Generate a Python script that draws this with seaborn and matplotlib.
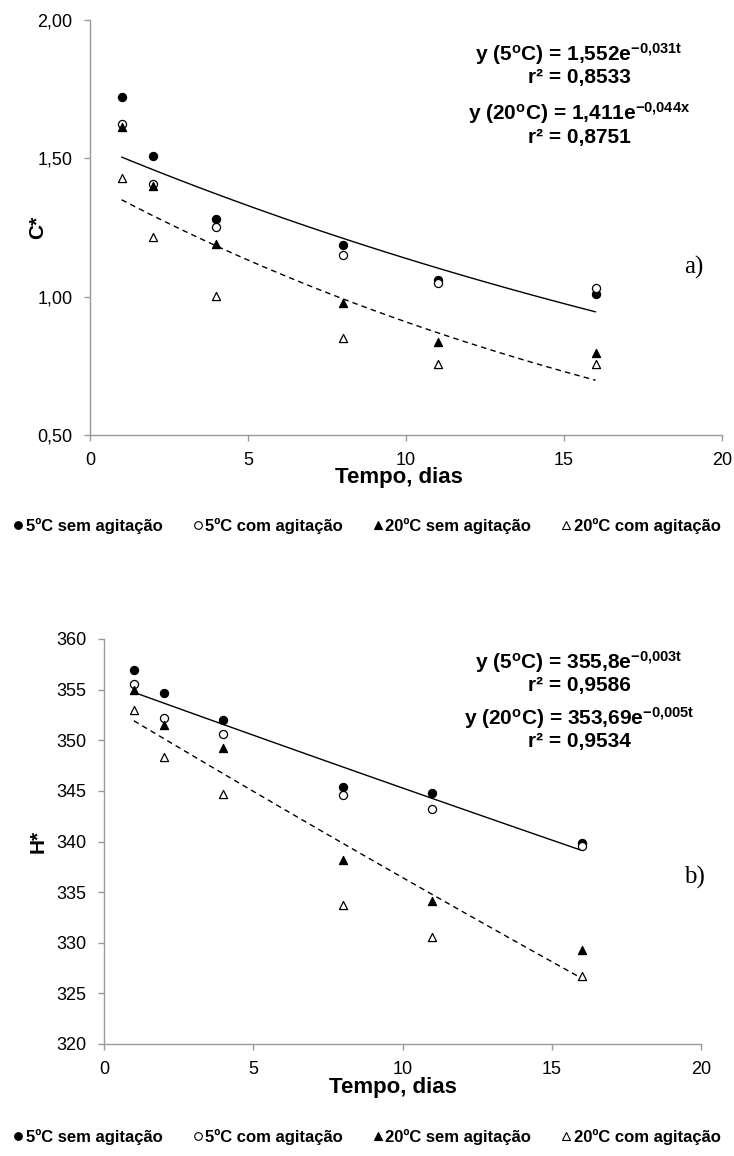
import numpy as np
import pandas as pd
import matplotlib
matplotlib.use("Agg")
import matplotlib.pyplot as plt
import seaborn as sns
from matplotlib.lines import Line2D

# ---------------- data ----------------
days = [1, 2, 4, 8, 11, 16]
series_names = ["5ºC sem agitação", "5ºC com agitação", "20ºC sem agitação", "20ºC com agitação"]

c_5_sem = [1.72, 1.507, 1.282, 1.188, 1.060, 1.010]
c_5_com = [1.625, 1.407, 1.251, 1.149, 1.050, 1.030]
c_20_sem = [1.615, 1.400, 1.191, 0.976, 0.835, 0.795]
c_20_com = [1.430, 1.216, 1.002, 0.849, 0.755, 0.755]

h_5_sem = [356.9, 354.7, 352.0, 345.4, 344.8, 339.9]
h_5_com = [355.6, 352.2, 350.6, 344.6, 343.2, 339.6]
h_20_sem = [355.0, 351.5, 349.2, 338.2, 334.1, 329.3]
h_20_com = [353.0, 348.3, 344.7, 333.7, 330.6, 326.7]

# trendline coefficients (y = a * exp(b * t)) as printed on the chart
c_fit_5 = (1.552, -0.031)
c_fit_20 = (1.411, -0.044)
h_fit_5 = (355.8, -0.003)
h_fit_20 = (353.69, -0.005)
fit_range = (1, 16)

c_eq_texts = [r"y (5$^{o}$C) = 1,552e$^{-0{,}031t}$", "r² = 0,8533",
              r"y (20$^{o}$C) = 1,411e$^{-0{,}044x}$", "r² = 0,8751"]
h_eq_texts = [r"y (5$^{o}$C) = 355,8e$^{-0{,}003t}$", "r² = 0,9586",
              r"y (20$^{o}$C) = 353,69e$^{-0{,}005t}$", "r² = 0,9534"]

c_yticks = [0.5, 1.0, 1.5, 2.0]
c_ylabels = ["0,50", "1,00", "1,50", "2,00"]
h_yticks = [320, 325, 330, 335, 340, 345, 350, 355, 360]
x_ticks = [0, 5, 10, 15, 20]

# ---------------- style ----------------
sns.set_theme(style="white")
plt.rcParams["font.family"] = ["Liberation Sans", "DejaVu Sans"]
plt.rcParams["text.color"] = "black"
plt.rcParams["axes.labelcolor"] = "black"
plt.rcParams["mathtext.fontset"] = "custom"
plt.rcParams["mathtext.rm"] = "Liberation Sans:bold"
plt.rcParams["mathtext.it"] = "Liberation Sans:bold"
plt.rcParams["mathtext.bf"] = "Liberation Sans:bold"
plt.rcParams["mathtext.default"] = "rm"

W, H = 734, 1156
fig = plt.figure(figsize=(W / 100, H / 100), dpi=100)

spine_col = "#9a9a9a"
markers = ["o", "o", "^", "^"]
faces = ["black", "white", "black", "white"]


def rect(l, r, t, b):
    return [l / W, 1 - b / H, (r - l) / W, (b - t) / H]


def panel(ax, vals, fit5, fit20, ylim, yticks, ylabels, ylabel, eqs, eq_ys, tag, tag_y,
          ylab_x, xlab_xy):
    rows = []
    for name, v in zip(series_names, vals):
        for d, y in zip(days, v):
            rows.append({"Tempo": d, "val": y, "serie": name})
    df = pd.DataFrame(rows)
    t = np.linspace(fit_range[0], fit_range[1], 100)
    fit_df = pd.DataFrame({"t": np.concatenate([t, t]),
                           "y": np.concatenate([fit5[0] * np.exp(fit5[1] * t),
                                                fit20[0] * np.exp(fit20[1] * t)]),
                           "fit": ["5"] * len(t) + ["20"] * len(t)})
    sns.lineplot(data=fit_df[fit_df.fit == "5"], x="t", y="y", ax=ax, color="black",
                 lw=1.0, legend=False)
    sns.lineplot(data=fit_df[fit_df.fit == "20"], x="t", y="y", ax=ax, color="black",
                 lw=1.0, dashes=False, legend=False, linestyle=(0, (4, 3)))
    for name, m, fc in zip(series_names, markers, faces):
        sub = df[df.serie == name]
        sns.scatterplot(data=sub, x="Tempo", y="val", ax=ax, marker=m, s=34,
                        facecolor=fc, edgecolor="black", linewidth=0.9, zorder=3,
                        legend=False)
    ax.set_xlim(0, 20)
    ax.set_ylim(*ylim)
    ax.set_xticks(x_ticks)
    ax.set_xticklabels([str(x) for x in x_ticks])
    ax.set_yticks(yticks)
    ax.set_yticklabels(ylabels)
    for s in ["top", "right"]:
        ax.spines[s].set_visible(False)
    for s in ["left", "bottom"]:
        ax.spines[s].set_color(spine_col)
        ax.spines[s].set_linewidth(1.0)
    ax.tick_params(axis="both", direction="out", length=4.5, width=1.0, color=spine_col,
                   labelsize=13, labelcolor="black", pad=8, left=True, bottom=True)
    ax.set_xlabel("Tempo, dias", fontsize=16, fontweight="bold")
    ax.set_ylabel(ylabel, fontsize=15, fontweight="bold")
    ax.xaxis.label.set_va("center")
    ax.yaxis.label.set_va("center")
    ax.xaxis.set_label_coords(*xlab_xy)
    ax.yaxis.set_label_coords(ylab_x, 0.5)
    for txt, yy in zip(eqs, eq_ys):
        fig.text(579 / W, 1 - yy / H, txt, ha="center", va="center", fontsize=15,
                 fontweight="bold")
    fig.text(694 / W, 1 - tag_y / H, tag, ha="center", va="center", fontsize=18,
             family=["Liberation Serif", "DejaVu Serif"])


ax1 = fig.add_axes(rect(90, 722, 20, 435))
panel(ax1, [c_5_sem, c_5_com, c_20_sem, c_20_com], c_fit_5, c_fit_20, (0.5, 2.0),
      c_yticks, c_ylabels, "C*", c_eq_texts, [54, 78, 113, 137], "a)", 267,
      (38 - 90) / 632, ((399 - 90) / 632, -(478 - 435) / 415))

ax2 = fig.add_axes(rect(104, 701, 639, 1044))
panel(ax2, [h_5_sem, h_5_com, h_20_sem, h_20_com], h_fit_5, h_fit_20, (320, 360),
      h_yticks, [str(v) for v in h_yticks], "H*", h_eq_texts, [662, 686, 718, 742], "b)", 877,
      (38 - 104) / 597, ((393 - 104) / 597, -(1088 - 1044) / 405))


def legend_at(y):
    handles = [Line2D([], [], linestyle="none", marker=m, markersize=5.5,
                      markerfacecolor=fc, markeredgecolor="black", markeredgewidth=0.8)
               for m, fc in zip(markers, faces)]
    fig.legend(handles, series_names, loc="center", bbox_to_anchor=(0.5, 1 - y / H),
               ncol=4, frameon=False, handlelength=0.6, handletextpad=0.15,
               columnspacing=1.8, prop={"weight": "bold", "size": 12})


legend_at(526)
legend_at(1137)

fig.savefig("out.png", dpi=100)
